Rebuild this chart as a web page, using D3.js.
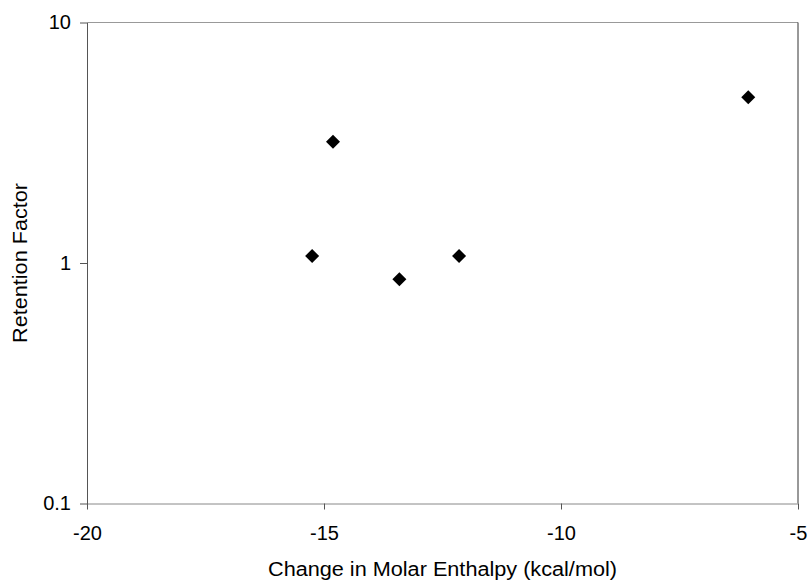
<!DOCTYPE html>
<html><head><meta charset="utf-8">
<script src="https://cdn.jsdelivr.net/npm/d3@7"></script>
<style>body{margin:0;background:#fff}svg text{font-family:"Liberation Sans",Arial,sans-serif;fill:#000}</style>
</head><body><svg id="c" width="808" height="582"></svg>
<script>
const enthalpy = [-15.25, -14.81, -13.41, -12.15, -6.05];
const retention = [1.07, 3.19, 0.855, 1.07, 4.89];
const xTicks = [-20, -15, -10, -5];
const yTicks = [0.1, 1, 10];
const xLabel = "Change in Molar Enthalpy (kcal/mol)";
const yLabel = "Retention Factor";

const svg = d3.select("#c");
const L = 87, R = 798, T = 22.5, B = 503.5;
const x = d3.scaleLinear().domain([-20, -5]).range([L, R]);
const y = d3.scaleLog().domain([0.1, 10]).range([B, T]);

// frame
svg.append("line").attr("x1", L).attr("x2", R).attr("y1", T).attr("y2", T).attr("stroke", "#999");
svg.append("line").attr("x1", R).attr("x2", R).attr("y1", T).attr("y2", B).attr("stroke", "#333");

const xa = svg.append("g").attr("transform", `translate(0,${B})`)
  .call(d3.axisBottom(x).tickValues(xTicks).tickSize(6).tickSizeOuter(0).tickPadding(16).tickFormat(d => String(d)));
xa.select(".domain").attr("stroke", "#888");
xa.selectAll(".tick line").attr("stroke", "#555");
xa.selectAll("text").attr("font-size", 20).attr("fill", "#000");

const ya = svg.append("g").attr("transform", `translate(${L},0)`)
  .call(d3.axisLeft(y).tickValues(yTicks).tickSize(7).tickSizeOuter(0).tickPadding(9).tickFormat(d => String(d)));
ya.select(".domain").attr("stroke", "#555");
ya.selectAll(".tick line").attr("stroke", "#555");
ya.selectAll("text").attr("font-size", 20).attr("fill", "#000");

const data = enthalpy.map((e, i) => ({x: e, y: retention[i]}));
svg.append("g").selectAll("path").data(data).join("path")
  .attr("transform", d => `translate(${x(d.x)},${y(d.y)})`)
  .attr("d", "M0,-7L7,0L0,7L-7,0Z").attr("fill", "#000");

svg.append("text").attr("x", (L + R) / 2).attr("y", 576).attr("text-anchor", "middle")
  .attr("font-size", 20).attr("textLength", 349).attr("lengthAdjust", "spacingAndGlyphs").text(xLabel);
svg.append("text").attr("transform", `translate(20,${(T + B) / 2}) rotate(-90)`)
  .attr("text-anchor", "middle").attr("dy", "0.36em").attr("font-size", 20)
  .attr("textLength", 160).attr("lengthAdjust", "spacingAndGlyphs").text(yLabel);
</script></body></html>
